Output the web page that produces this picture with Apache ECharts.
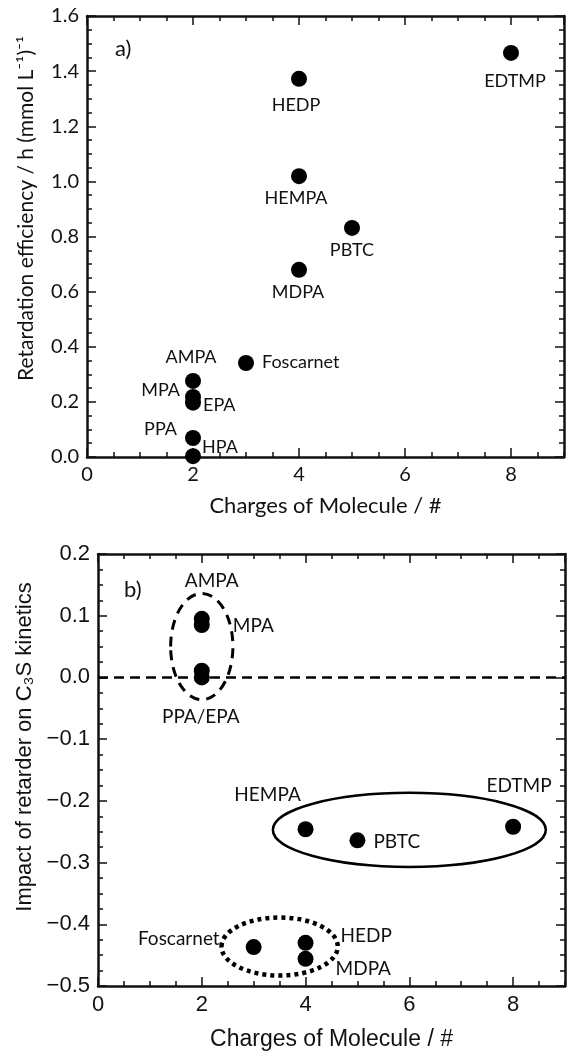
<!DOCTYPE html>
<html lang="en">
<head>
    <meta charset="utf-8">
    <title>Retarder charges</title>
    <script src="https://cdn.jsdelivr.net/npm/echarts@6.0.0/dist/echarts.min.js"></script>
    <style>
        html, body { margin: 0; padding: 0; background: #fff; }
        #chart { width: 567px; height: 1052px; }
    </style>
</head>
<body>
<div id="chart"></div>
<script type="text/javascript">
    // ---- panel a) retardation efficiency ----
    var namesA   = ['EDTMP', 'HEDP', 'HEMPA', 'PBTC', 'MDPA', 'Foscarnet', 'AMPA', 'MPA', 'EPA', 'PPA', 'HPA'];
    var chargesA = [8, 4, 4, 5, 4, 3, 2, 2, 2, 2, 2];
    var effA     = [1.466, 1.372, 1.019, 0.831, 0.679, 0.341, 0.276, 0.218, 0.197, 0.069, 0.003];

    // ---- panel b) impact on C3S kinetics ----
    var namesB   = ['AMPA', 'MPA', 'PPA', 'EPA', 'HEMPA', 'PBTC', 'EDTMP', 'Foscarnet', 'HEDP', 'MDPA'];
    var labelsB  = ['AMPA', 'MPA', '', 'PPA/EPA', 'HEMPA', 'PBTC', 'EDTMP', 'Foscarnet', 'HEDP', 'MDPA'];
    var chargesB = [2, 2, 2, 2, 4, 5, 8, 3, 4, 4];
    var impactB  = [0.095, 0.085, 0.011, 0.0, -0.246, -0.264, -0.242, -0.437, -0.430, -0.456];

    // groups drawn round the points: centre x, centre y, full width, full height (data units)
    var groupCx = [2, 6, 3.5];
    var groupCy = [0.05, -0.247, -0.436];
    var groupW  = [1.2, 5.26, 2.24];
    var groupH  = [0.172, 0.12, 0.094];

    // label placement (style only)
    var posA = [
        ['bottom', [4, 6]], ['bottom', [-3, 4]], ['bottom', [-3, 0]], ['bottom', [0, 0]], ['bottom', [-1, 0]],
        ['right', [3, -1]], ['top', [-2, -2]], ['left', [0, -7]], ['right', [-3, 2]], ['left', [-3, -9]], ['right', [-4, -9]]
    ];
    var posB = [
        ['top', [10, -15]], ['right', [18, 1]], ['bottom', [0, 0]], ['bottom', [-1, 17]], ['top', [-38, -12]],
        ['right', [3, 2]], ['top', [6, -18]], ['left', [-21, -8]], ['right', [22, -7]], ['right', [17, 10]]
    ];
    var groupDash = [[10, 7], 'solid', [4, 4]];
    var groupWidth = [3, 2.5, 4.5];

    var black = '#111';
    var lato = 'Lato';
    var arial = 'Liberation Sans';

    function fmt(v) {
        return v < 0 ? '\u2212' + Math.abs(v).toFixed(1) : v.toFixed(1);
    }

    // four x axes per grid: bottom major/minor and mirrored top major/minor
    function xAxesFor(grid, font, size, nameSize, gap) {
        var base = function (pos, interval, len, line, labels) {
            return {
                type: 'value', gridIndex: grid, position: pos, min: 0, max: 9, interval: interval,
                splitLine: { show: false },
                axisLine: { show: line, onZero: false, lineStyle: { color: black, width: 2.5 } },
                axisTick: { inside: true, length: len, lineStyle: { color: black, width: 1.5 } },
                axisLabel: { show: labels, showMaxLabel: false, margin: 8, color: black, fontFamily: font, fontSize: size }
            };
        };
        var main = base('bottom', 2, 9, true, true);
        main.name = 'Charges of Molecule / #';
        main.nameLocation = 'middle';
        main.nameGap = gap;
        main.nameTextStyle = { color: black, fontFamily: font, fontSize: nameSize };
        return [main, base('bottom', 0.5, 5, false, false), base('top', 2, 9, true, false), base('top', 0.5, 5, false, false)];
    }

    function yAxesFor(grid, min, max, interval, font, size, name, nameSize, gap, shift) {
        var base = function (pos, labels) {
            return {
                type: 'value', gridIndex: grid, position: pos, min: min, max: max, interval: interval,
                splitLine: { show: false },
                axisLine: { show: true, onZero: false, lineStyle: { color: black, width: 2.5 } },
                axisTick: { inside: true, length: 9, lineStyle: { color: black, width: 1.5 } },
                minorTick: { show: true, splitNumber: 4, length: 5, lineStyle: { color: black, width: 1.5 } },
                axisLabel: { show: labels, margin: 8, color: black, fontFamily: font, fontSize: size, formatter: fmt }
            };
        };
        var left = base('left', true);
        left.name = name;
        left.nameLocation = 'middle';
        left.nameGap = gap;
        left.nameTextStyle = { color: black, fontFamily: font, fontSize: nameSize, padding: [0, 0, 0, shift] };
        return [left, base('right', false)];
    }

    var dataA = namesA.map(function (n, i) {
        return {
            name: n, value: [chargesA[i], effA[i]],
            label: { show: true, position: posA[i][0], offset: posA[i][1] }
        };
    });
    var dataB = namesB.map(function (n, i) {
        return {
            name: labelsB[i], value: [chargesB[i], impactB[i]],
            label: { show: labelsB[i] !== '', position: posB[i][0], offset: posB[i][1] }
        };
    });
    var groups = groupCx.map(function (c, i) {
        return [c, groupCy[i], groupW[i], groupH[i]];
    });

    var chart = echarts.init(document.getElementById('chart'), null, { renderer: 'canvas' });

    var option = {
        backgroundColor: '#fff',
        animation: false,
        textStyle: { fontFamily: lato, color: black },
        title: [
            { text: 'a)', left: 110, top: 33, textStyle: { fontFamily: lato, fontSize: 22, fontWeight: 'normal', color: black } },
            { text: 'b)', left: 119, top: 574, textStyle: { fontFamily: lato, fontSize: 22, fontWeight: 'normal', color: black } }
        ],
        grid: [
            { left: 87, top: 16, width: 477, height: 441 },
            { left: 98, top: 554, width: 467, height: 438 }
        ],
        xAxis: xAxesFor(0, lato, 20, 22, 38).concat(xAxesFor(1, arial, 22, 23, 42)),
        yAxis: yAxesFor(0, 0, 1.6, 0.2, lato, 20, 'Retardation efficiency / h (mmol L\u207B\u00B9)\u207B\u00B9', 21, 50, 56)
            .concat(yAxesFor(1, -0.5, 0.2, 0.1, arial, 22, 'Impact of retarder on C\u2083S kinetics', 22, 62, 46)),
        series: [
            {
                type: 'scatter', xAxisIndex: 0, yAxisIndex: 0,
                symbol: 'circle', symbolSize: 16,
                itemStyle: { color: '#000', opacity: 1 },
                label: { formatter: '{b}', color: black, fontFamily: lato, fontSize: 18, distance: 5 },
                data: dataA
            },
            {
                type: 'custom', xAxisIndex: 4, yAxisIndex: 2,
                silent: true,
                renderItem: function (params, api) {
                    var c = api.coord([api.value(0), api.value(1)]);
                    var s = api.size([api.value(2), api.value(3)], [api.value(0), api.value(1)]);
                    var i = params.dataIndex;
                    return {
                        type: 'ellipse',
                        shape: { cx: c[0], cy: c[1], rx: s[0] / 2, ry: s[1] / 2 },
                        style: {
                            fill: 'none', stroke: '#000', lineWidth: groupWidth[i],
                            lineDash: groupDash[i] === 'solid' ? null : groupDash[i]
                        }
                    };
                },
                data: groups,
                markLine: {
                    silent: true, symbol: 'none',
                    label: { show: false },
                    lineStyle: { color: '#000', width: 2.5, type: [10, 6] },
                    data: [{ yAxis: 0 }]
                }
            },
            {
                type: 'scatter', xAxisIndex: 4, yAxisIndex: 2,
                symbol: 'circle', symbolSize: 16,
                itemStyle: { color: '#000', opacity: 1 },
                label: { formatter: '{b}', color: black, fontFamily: lato, fontSize: 19, distance: 5 },
                data: dataB
            }
        ]
    };

    chart.setOption(option);
</script>
</body>
</html>
